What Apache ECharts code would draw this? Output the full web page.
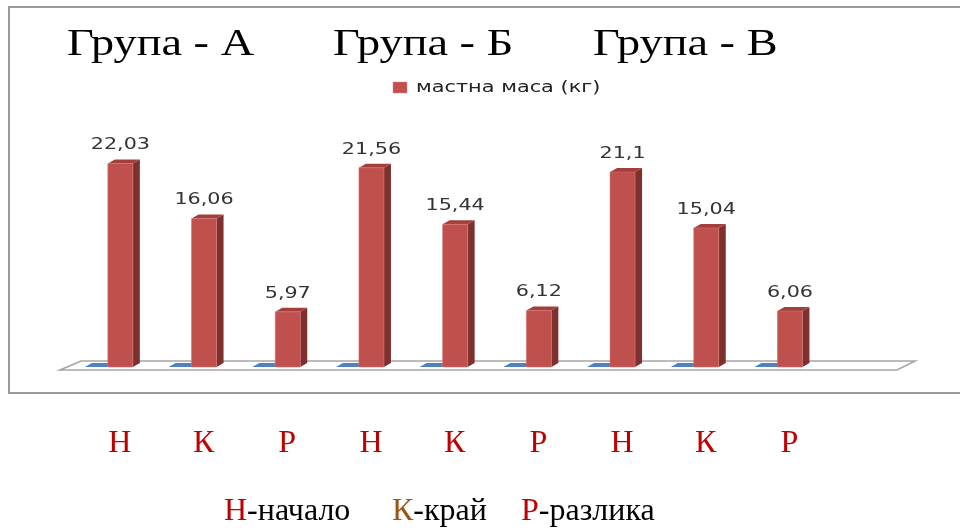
<!DOCTYPE html>
<html>
<head>
<meta charset="utf-8">
<script src="https://cdn.jsdelivr.net/npm/echarts@6/dist/echarts.min.js"></script>
<style>
  html, body { margin: 0; padding: 0; background: #fff; }
  #chart { width: 960px; height: 531px; }
</style>
</head>
<body>
<div id="chart"></div>
<script>
// Н = начало, К = край, Р = разлика for groups А, Б, В (last slot left empty)
const categories = ['Н', 'К', 'Р', 'Н', 'К', 'Р', 'Н', 'К', 'Р', ''];
const fatMass = [22.03, 16.06, 5.97, 21.56, 15.44, 6.12, 21.1, 15.04, 6.06];
const baseValues = [0, 0, 0, 0, 0, 0, 0, 0, 0];
const groupTitles = ['Група - А', 'Група - Б', 'Група - В'];
const seriesName = 'мастна маса (кг)';
const keyItems = [
  { letter: 'Н', rest: '-начало' },
  { letter: 'К', rest: '-край' },
  { letter: 'Р', rest: '-разлика' }
];

const chart = echarts.init(document.getElementById('chart'), null, { renderer: 'canvas' });

const RED = '#C0504D', RED_SIDE = '#7E302E', RED_TOP = '#A33E3B';
const BLUE = '#4F81BD';
const DX = 7, DY = 4;

function fmt(v) { return String(v).replace('.', ','); }

// flat floor of the 3D plot area
function renderFloor(params, api) {
  const cs = params.coordSys;
  const y0 = api.coord([0, 0])[1];
  const xl = cs.x, xr = cs.x + cs.width;
  return {
    type: 'polygon',
    shape: { points: [[xl, y0 + 3], [xr, y0 + 3], [xr + 18, y0 - 6], [xl + 21, y0 - 6]] },
    style: { fill: '#ffffff', stroke: '#A6A6A6', lineWidth: 1.6 }
  };
}

// zero-height blue series drawn as a flat cap on the floor
function renderBase(params, api) {
  const i = api.value(0);
  const p = api.coord([i, api.value(1)]);
  const cx = p[0], y = p[1];
  return {
    type: 'polygon',
    shape: { points: [[cx - 17, y], [cx + 6, y], [cx + 6 + DX, y - DY], [cx - 10, y - DY]] },
    style: { fill: BLUE }
  };
}

// 3D-looking red column with its value label
function renderColumn(params, api) {
  const i = api.value(0), v = api.value(1);
  const base = api.coord([i, 0]);
  const top = api.coord([i, v]);
  const w = 25;
  const x0 = base[0] + 6, x1 = x0 + w;
  const y0 = base[1], y1 = top[1];
  return {
    type: 'group',
    children: [
      { type: 'polygon', shape: { points: [[x1, y1], [x1 + DX, y1 - DY], [x1 + DX, y0 - DY], [x1, y0]] }, style: { fill: RED_SIDE } },
      { type: 'polygon', shape: { points: [[x0, y1], [x1, y1], [x1 + DX, y1 - DY], [x0 + DX, y1 - DY]] }, style: { fill: RED_TOP } },
      { type: 'rect', shape: { x: x0, y: y1, width: w, height: y0 - y1 }, style: { fill: RED, stroke: '#D27572', lineWidth: 0.6 } },
      {
        type: 'text', x: x0 + w / 2, y: y1 - 18, scaleX: 1.38,
        style: {
          text: fmt(v), textAlign: 'center', textVerticalAlign: 'middle',
          align: 'center', verticalAlign: 'middle',
          font: '15px "DejaVu Sans"', fill: '#333333'
        }
      }
    ]
  };
}

const titleX = [67, 333, 593];
const keyX = [224, 392, 521];
const keyColors = ['#C00000', '#9E5513', '#C00000'];

const graphics = [
  { type: 'rect', z: -10, shape: { x: 9, y: 7, width: 960, height: 386 }, style: { fill: 'none', stroke: '#9A9A9A', lineWidth: 2 } }
];
groupTitles.forEach((t, k) => {
  graphics.push({
    type: 'text', x: titleX[k], y: 45, scaleX: 1.22,
    style: { text: t, font: '38px "Liberation Serif"', fill: '#000', textVerticalAlign: 'middle', verticalAlign: 'middle' }
  });
});
// legend of the column series
graphics.push({ type: 'rect', shape: { x: 393, y: 82, width: 14, height: 11 }, style: { fill: RED, stroke: '#D88', lineWidth: 0.5 } });
graphics.push({
  type: 'text', x: 416, y: 88, scaleX: 1.39,
  style: { text: seriesName, font: '15px "DejaVu Sans"', fill: '#222', textVerticalAlign: 'middle', verticalAlign: 'middle' }
});
// key explaining the letters
keyItems.forEach((it, k) => {
  graphics.push({
    type: 'text', x: keyX[k], y: 512,
    style: {
      text: '{c|' + it.letter + '}' + it.rest,
      font: '32px "Liberation Serif"', fill: '#000',
      textVerticalAlign: 'middle', verticalAlign: 'middle',
      rich: { c: { fill: keyColors[k], font: '32px "Liberation Serif"' } }
    }
  });
});

const option = {
  animation: false,
  backgroundColor: '#ffffff',
  grid: { left: 60, right: 63, top: 136, bottom: 164 },
  xAxis: {
    type: 'category',
    data: categories,
    axisLine: { show: false },
    axisTick: { show: false },
    splitLine: { show: false },
    axisLabel: {
      interval: 0,
      margin: 61,
      formatter: v => '{l|' + v + '}',
      rich: { l: { padding: [0, 0, 0, 36], fontFamily: 'Liberation Serif', fontSize: 32, color: '#C00000' } }
    }
  },
  yAxis: { type: 'value', min: 0, max: 25, show: false },
  graphic: graphics,
  series: [
    { type: 'custom', name: 'floor', z: 1, silent: true, data: [[0, 0]], renderItem: renderFloor },
    { type: 'custom', name: 'база', z: 2, data: baseValues.map((v, i) => [i, v]), encode: { x: 0, y: 1 }, renderItem: renderBase },
    { type: 'custom', name: seriesName, z: 3, data: fatMass.map((v, i) => [i, v]), encode: { x: 0, y: 1 }, renderItem: renderColumn }
  ]
};

chart.setOption(option);
</script>
</body>
</html>
